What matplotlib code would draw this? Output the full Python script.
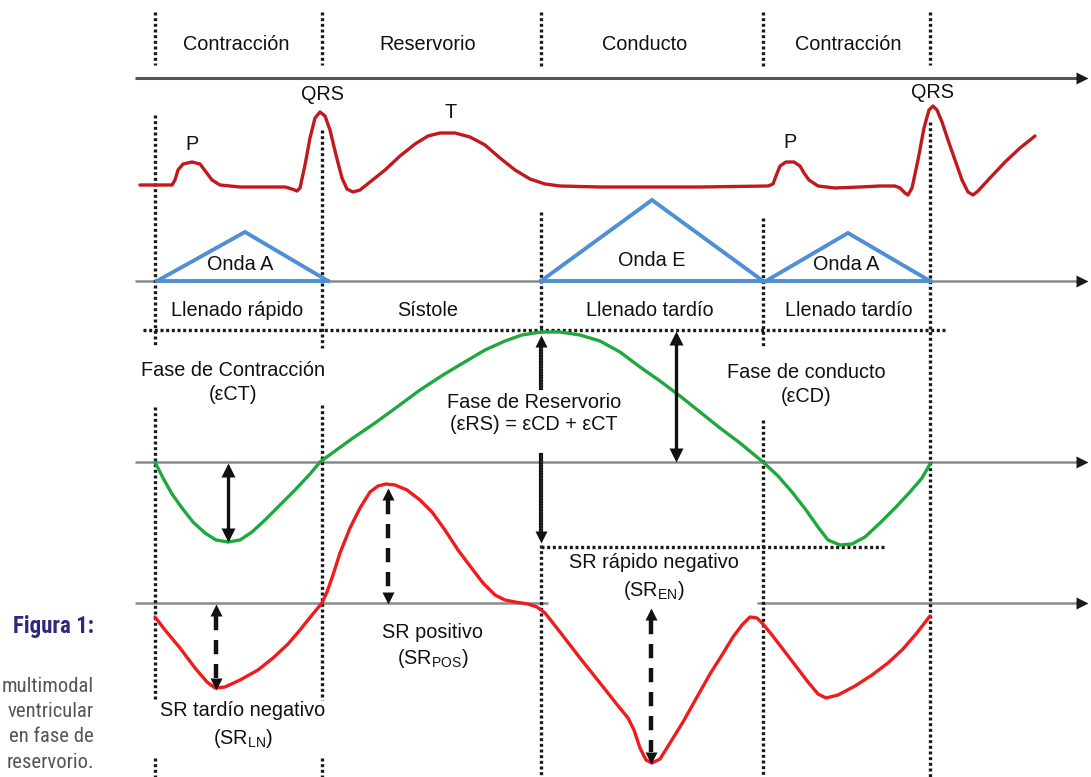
import matplotlib
matplotlib.use('Agg')
import matplotlib.pyplot as plt
from matplotlib import font_manager
from matplotlib.font_manager import FontProperties

# ---------------- data ----------------
phase_names = ["Contracción", "Reservorio", "Conducto", "Contracción"]
event_times = [155, 322, 541, 763, 930]

# ECG trace: time, amplitude above baseline
ecg_t = [140, 172, 175, 178, 183, 192, 200, 206, 212, 220, 240, 260, 285, 292, 297, 300, 305, 310,
         315, 320, 325, 330, 336, 342, 347, 353, 360, 370, 385, 400, 415, 428, 440, 455, 470, 485,
         500, 515, 530, 545, 560, 600, 700, 768, 773, 776, 780, 786, 794, 800, 804, 809, 818, 835,
         860, 880, 895, 900, 905, 908, 912, 918, 924, 929, 933, 937, 942, 948, 955, 962, 968, 973,
         978, 990, 1005, 1020, 1035]
ecg_v = [1, 1, 6, 16, 22, 24, 22, 14, 6, 1, -1, -1, -1, -3, -5, -2, 21, 48,
         68, 74, 70, 56, 31, 8, -3, -6, -4, 4, 16, 30, 42, 50, 53, 53, 49, 41,
         28, 16, 7, 2, 0, -1, -1, 0, 2, 10, 20, 24, 24, 20, 13, 6, 0, -2,
         -1, 0, 0, -2, -7, -9, -2, 26, 58, 76, 80, 76, 64, 46, 26, 6, -6, -9,
         -5, 8, 24, 38, 50]
ecg_labels = ["P", "QRS", "T", "P", "QRS"]
ecg_label_t = [192, 322, 451, 790, 933]
ecg_label_v = [41, 91, 73, 44, 94]

# Doppler waves (start, peak time, end, peak height)
wave_names = ["Onda A", "Onda E", "Onda A"]
wave_start = [157, 541, 766]
wave_peak_t = [245, 652, 848]
wave_end = [328, 763, 930]
wave_height = [49, 81, 48]
filling_names = ["Llenado rápido", "Sístole", "Llenado tardío", "Llenado tardío"]

# Strain curve
strain_t = [155, 163, 172, 182, 193, 205, 216, 228, 240, 252, 265, 280, 295, 310, 320, 335, 353,
            375, 397, 420, 443, 463, 485, 505, 522, 541, 560, 580, 600, 620, 640, 660, 680, 700,
            720, 740, 763, 778, 792, 806, 818, 828, 840, 852, 865, 880, 895, 910, 922, 930]
strain_v = [0, -16, -32, -46, -60, -71, -78, -80, -78, -70, -58, -43, -28, -12, 0, 11, 24,
            39, 55, 72, 87, 99, 112, 121, 127, 130, 130, 127, 121, 110, 95, 81, 66, 50,
            34, 19, 0, -14, -30, -48, -65, -78, -83, -82, -75, -61, -46, -30, -16, -2]

# Strain rate curve
sr_t = [155, 165, 180, 195, 207, 215, 225, 240, 258, 273, 288, 300, 312, 322, 327, 333, 340, 350,
        360, 370, 378, 386, 395, 407, 420, 432, 445, 458, 470, 483, 495, 505, 515, 528, 537, 545,
        560, 580, 600, 615, 628, 634, 640, 646, 652, 660, 670, 683, 697, 710, 722, 733, 742, 750,
        757, 763, 772, 782, 795, 808, 818, 826, 838, 855, 872, 888, 903, 916, 930]
sr_v = [-14, -27, -45, -65, -79, -85, -84, -77, -67, -55, -41, -27, -12, 0, 11, 28, 50, 75,
        95, 111, 117, 119, 118, 113, 103, 91, 73, 53, 37, 20, 8, 3, 1, -1, -4, -10,
        -29, -55, -80, -99, -115, -127, -145, -157, -160, -156, -140, -119, -94, -71, -52, -34, -22, -14,
        -15, -21, -32, -45, -62, -79, -91, -95, -92, -83, -72, -60, -46, -31, -13]

caption_title = "Figura 1:"
caption_lines = ["multimodal", "ventricular", "en fase de", "reservorio."]

# ---------------- styling / layout ----------------
W, H = 1091, 777
names = {f.name for f in font_manager.fontManager.ttflist}
SANS = 'Liberation Sans' if 'Liberation Sans' in names else 'DejaVu Sans'
plt.rcParams['font.family'] = [SANS, 'DejaVu Sans']
plt.rcParams['mathtext.fontset'] = 'custom'
plt.rcParams['mathtext.rm'] = SANS
plt.rcParams['mathtext.it'] = SANS


def find_condensed(bold):
    prefs = ['Liberation Sans Narrow', 'Roboto Condensed', 'Open Sans Condensed', 'Noto Sans',
             'DejaVu Sans', 'Roboto', 'Open Sans']
    cands = []
    for f in font_manager.fontManager.ttflist:
        st = str(f.stretch).lower()
        is_cond = ('condensed' in st or 'narrow' in f.name.lower() or 'condensed' in f.name.lower()
                   or (isinstance(f.stretch, (int, float)) and f.stretch < 500))
        if not is_cond or 'semi' in st or 'extra' in st or 'ultra' in st:
            continue
        w = f.weight if isinstance(f.weight, (int, float)) else (700 if 'bold' in str(f.weight).lower() else 400)
        if bold and not (600 <= w <= 750):
            continue
        if not bold and not (380 <= w <= 420):
            continue
        if f.style != 'normal':
            continue
        rank = next((i for i, p in enumerate(prefs) if f.name.startswith(p)), 99)
        cands.append((rank, f.fname))
    if cands:
        cands.sort()
        return FontProperties(fname=cands[0][1])
    return FontProperties(family=SANS, weight='bold' if bold else 'normal')


fig = plt.figure(figsize=(W / 100, H / 100), dpi=100)
ax = fig.add_axes([0, 0, 1, 1])
ax.set_xlim(0, W)
ax.set_ylim(H, 0)
ax.axis('off')

FS = 14.3
TXT = '#111111'
DOT = '#1a1a1a'

ECG_BASE, WAVE_BASE, STRAIN_BASE, SR_BASE = 186, 281, 462, 603


def vdots(x, y0, y1):
    ax.plot([x, x], [y0, y1], color=DOT, lw=2.4, ls=(0, (0.9, 0.8)), solid_capstyle='butt', zorder=3)


def hdots(x0, x1, y):
    ax.plot([x0, x1], [y, y], color=DOT, lw=2.4, ls=(0, (0.9, 0.8)), zorder=3)


def axis_arrow(x0, x1, y, color='#8a8a8a', lw=1.8, head=True):
    ax.plot([x0, x1], [y, y], color=color, lw=lw, zorder=1, solid_capstyle='butt')
    if head:
        ax.plot([x1], [y], marker='>', ms=9, color='#1a1a1a', mec='none', zorder=2)


# axes
axis_arrow(135, 1082, 78, color='#555555', lw=2.2)
axis_arrow(135, 1082, WAVE_BASE)
axis_arrow(135, 1082, STRAIN_BASE)
axis_arrow(135, 548, SR_BASE, head=False)
axis_arrow(757, 1082, SR_BASE)

# dotted event lines
segments = {
    0: [(12, 65), (115, 347), (407, 700), (758, 777)],
    1: [(12, 65), (130, 348), (405, 700), (758, 777)],
    2: [(12, 67), (212, 333), (545, 777)],
    3: [(12, 68), (218, 348), (420, 777)],
    4: [(12, 65), (122, 777)],
}
for i, segs in segments.items():
    for y0, y1 in segs:
        vdots(event_times[i], y0, y1)
hdots(143, 945, 330)
hdots(541, 885, 547)

# phase labels
phase_dx = [-2, -4, -7, 2]
for i, name in enumerate(phase_names):
    xc = (event_times[i] + event_times[i + 1]) / 2
    ax.text(xc + phase_dx[i], 44, name, ha='center', va='center', fontsize=FS, color=TXT)

# ECG
ax.plot(ecg_t, [ECG_BASE - v for v in ecg_v], color='#c01a1f', lw=2.4, zorder=4,
        solid_joinstyle='round', solid_capstyle='round')
for lab, t, v in zip(ecg_labels, ecg_label_t, ecg_label_v):
    ax.text(t, ECG_BASE - v, lab, ha='center', va='center', fontsize=FS, color=TXT)

# Doppler waves
BLUE = '#4f8fd4'
for name, s, p, e, h in zip(wave_names, wave_start, wave_peak_t, wave_end, wave_height):
    ax.plot([s, p, e], [WAVE_BASE, WAVE_BASE - h, WAVE_BASE], color=BLUE, lw=2.8, zorder=4,
            solid_joinstyle='miter')
    ax.plot([s, e], [WAVE_BASE, WAVE_BASE], color=BLUE, lw=2.8, zorder=4)
    ax.text((s + e) / 2 + (0 if name == "Onda E" else -2), WAVE_BASE - 17 - (3 if name == "Onda E" else 0),
            name, ha='center', va='center', fontsize=FS, color=TXT, zorder=5)
fill_dx = [-1, -4, -2, 2]
for i, name in enumerate(filling_names):
    xc = (event_times[i] + event_times[i + 1]) / 2
    ax.text(xc + fill_dx[i], 310, name, ha='center', va='center', fontsize=FS, color=TXT)

# strain
ax.plot(strain_t, [STRAIN_BASE - v for v in strain_v], color='#1fa83f', lw=2.4, zorder=4,
        solid_joinstyle='round', solid_capstyle='round')
# strain rate
ax.plot(sr_t, [SR_BASE - v for v in sr_v], color='#ee1c1c', lw=2.4, zorder=4,
        solid_joinstyle='round', solid_capstyle='round')


# arrows
def solid_double(x, y0, y1):
    ax.plot([x, x], [y0 + 6, y1 - 6], color='#111111', lw=2.4, zorder=6)
    ax.plot([x], [y0 + 5], marker='^', ms=9.5, color='#111111', mec='none', zorder=6)
    ax.plot([x], [y1 - 5], marker='v', ms=9.5, color='#111111', mec='none', zorder=6)


def dashed_double(x, y0, y1):
    ax.plot([x, x], [y0 + 10, y1 - 10], color='#111111', lw=3.2, ls=(0, (3.2, 2.2)), zorder=6,
            solid_capstyle='butt', dash_capstyle='butt')
    ax.plot([x], [y0 + 4], marker='^', ms=8, color='#111111', mec='none', zorder=6)
    ax.plot([x], [y1 - 4], marker='v', ms=8, color='#111111', mec='none', zorder=6)


solid_double(228, 465, 540)
dashed_double(216, 606, 688)
dashed_double(388, 490, 602)
solid_double(676, 333, 460)
dashed_double(651, 610, 762)

# thick event arrows at the reservoir boundary
x_r = event_times[2]
ax.plot([x_r, x_r], [388, 345], color='#111111', lw=3.0, zorder=6)
ax.plot([x_r, x_r], [388, 345], color='#555555', lw=1.0, ls=(0, (0.8, 1.2)), zorder=6)
ax.plot([x_r], [341], marker='^', ms=9, color='#111111', mec='none', zorder=6)
ax.plot([x_r, x_r], [455, 533], color='#111111', lw=3.0, zorder=6)
ax.plot([x_r, x_r], [455, 533], color='#555555', lw=1.0, ls=(0, (0.8, 1.2)), zorder=6)
ax.plot([x_r], [537], marker='v', ms=9, color='#111111', mec='none', zorder=6)


# annotations
def two_line(x, y, l1, l2, dy=24):
    ax.text(x, y, l1, ha='center', va='center', fontsize=FS, color=TXT, zorder=7)
    ax.text(x, y + dy, l2, ha='center', va='center', fontsize=FS, color=TXT, zorder=7)


two_line(233, 371, "Fase de Contracción", "(εCT)")
two_line(534, 402, "Fase de Reservorio", "(εRS) = εCD + εCT", dy=23)
two_line(806, 372, "Fase de conducto", "(εCD)")
two_line(654, 563, "SR rápido negativo", r"(SR$_{\mathrm{EN}}$)", dy=27)
two_line(433, 632, "SR positivo", r"(SR$_{\mathrm{POS}}$)", dy=27)
two_line(243, 711, "SR tardío negativo", r"(SR$_{\mathrm{LN}}$)", dy=27)

# left caption fragment (sized so that the text widths match the reference)
fp_b = find_condensed(True)
fp_r = find_condensed(False)
renderer = fig.canvas.get_renderer()


def fit_text(x, y, s, fp, target_w, color):
    t = ax.text(x, y, s, ha='right', va='center', fontproperties=fp.copy(), color=color)
    t.set_fontsize(16)
    w = t.get_window_extent(renderer).width
    t.set_fontsize(16 * target_w / w)
    return t


fit_text(94, 627, caption_title, fp_b, 81, '#2d2a78')
sizes = []
ref = fit_text(94, 711, caption_lines[1], fp_r, 86, '#555555')
fs_cap = ref.get_fontsize()
ref.remove()
for i, line in enumerate(caption_lines):
    t = ax.text(94, 686 + 25.5 * i, line, ha='right', va='center', fontproperties=fp_r.copy(),
                color='#555555')
    t.set_fontsize(fs_cap)

fig.savefig('out.png', dpi=100)
